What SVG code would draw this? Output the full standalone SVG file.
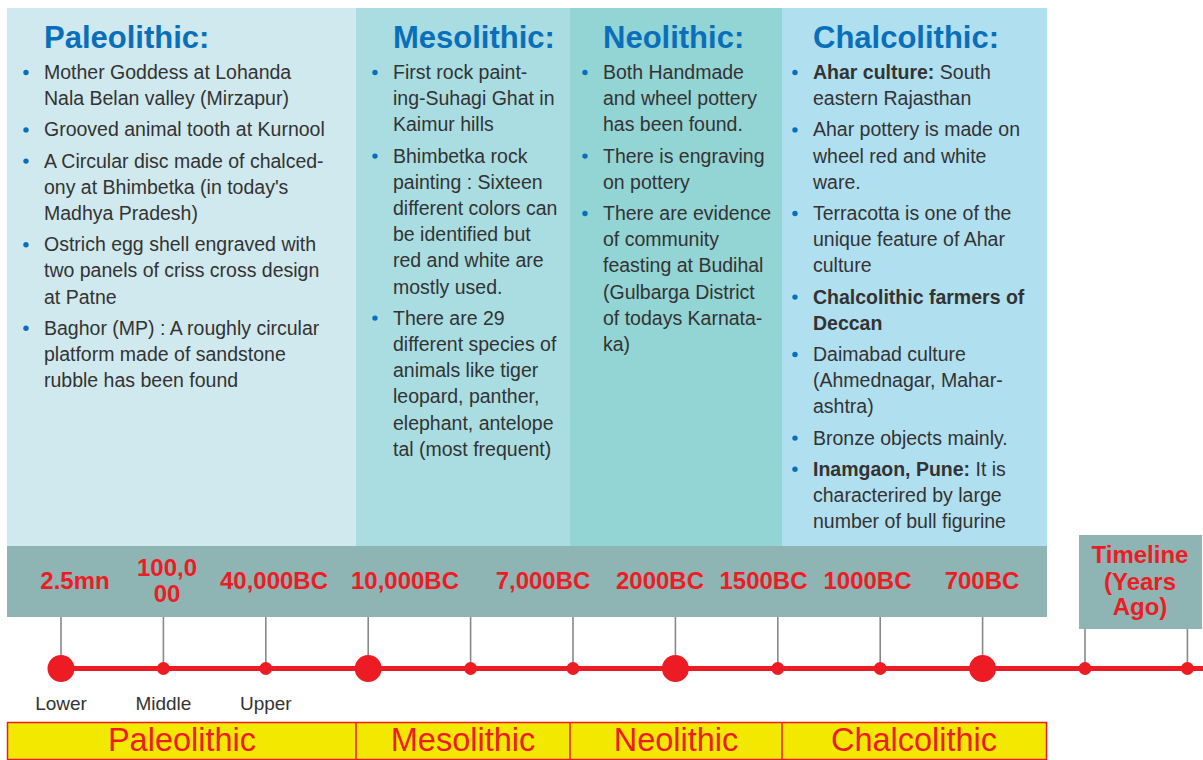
<svg xmlns="http://www.w3.org/2000/svg" width="1203" height="760" viewBox="0 0 1203 760">
<style>
.h{font-family:"Liberation Sans",Arial,sans-serif;font-weight:bold;font-size:31px;fill:#0a6fba}
.b{font-family:"Liberation Sans",Arial,sans-serif;font-size:19.5px;fill:#333}
.bb{font-weight:bold}
.d{fill:#0a6fba}
.dt{font-family:"Liberation Sans",Arial,sans-serif;font-weight:bold;font-size:24px;fill:#ed1c24;text-anchor:middle}
.lb{font-family:"Liberation Sans",Arial,sans-serif;font-size:19px;fill:#333;text-anchor:middle}
.era{font-family:"Liberation Sans",Arial,sans-serif;font-size:32.5px;fill:#ed1c24;text-anchor:middle}
.tick{stroke:#888;stroke-width:1.6}
.dot{fill:#ed1c24}
</style>
<rect width="1203" height="760" fill="#fff"/>

<g id="paleolithic-panel">
<rect x="7" y="8" width="349" height="538" fill="#d0e9ee"/>
<text class="h" x="44" y="48">Paleolithic:</text>
<circle class="d" cx="26" cy="72.5" r="2.7"/>
<circle class="d" cx="26" cy="129.9" r="2.7"/>
<circle class="d" cx="26" cy="161.1" r="2.7"/>
<circle class="d" cx="26" cy="244.7" r="2.7"/>
<circle class="d" cx="26" cy="328.3" r="2.7"/>
<text class="b" x="44" y="79">Mother Goddess at Lohanda</text>
<text class="b" x="44" y="105.2">Nala Belan valley (Mirzapur)</text>
<text class="b" x="44" y="136.4">Grooved animal tooth at Kurnool</text>
<text class="b" x="44" y="167.6">A Circular disc made of chalced-</text>
<text class="b" x="44" y="193.8">ony at Bhimbetka (in today's</text>
<text class="b" x="44" y="220">Madhya Pradesh)</text>
<text class="b" x="44" y="251.2">Ostrich egg shell engraved with</text>
<text class="b" x="44" y="277.4">two panels of criss cross design</text>
<text class="b" x="44" y="303.6">at Patne</text>
<text class="b" x="44" y="334.8">Baghor (MP) : A roughly circular</text>
<text class="b" x="44" y="361">platform made of sandstone</text>
<text class="b" x="44" y="387.2">rubble has been found</text>
</g>

<g id="mesolithic-panel">
<rect x="356" y="8" width="214" height="538" fill="#a9dde1"/>
<text class="h" x="393" y="48">Mesolithic:</text>
<circle class="d" cx="375" cy="72.5" r="2.7"/>
<circle class="d" cx="375" cy="156.1" r="2.7"/>
<circle class="d" cx="375" cy="318.1" r="2.7"/>
<text class="b" x="393" y="79">First rock paint-</text>
<text class="b" x="393" y="105.2">ing-Suhagi Ghat in</text>
<text class="b" x="393" y="131.4">Kaimur hills</text>
<text class="b" x="393" y="162.6">Bhimbetka rock</text>
<text class="b" x="393" y="188.8">painting : Sixteen</text>
<text class="b" x="393" y="215">different colors can</text>
<text class="b" x="393" y="241.2">be identified but</text>
<text class="b" x="393" y="267.4">red and white are</text>
<text class="b" x="393" y="293.6">mostly used.</text>
<text class="b" x="393" y="324.8">There are 29</text>
<text class="b" x="393" y="351">different species of</text>
<text class="b" x="393" y="377.2">animals like tiger</text>
<text class="b" x="393" y="403.4">leopard, panther,</text>
<text class="b" x="393" y="429.6">elephant, antelope</text>
<text class="b" x="393" y="455.8">tal (most frequent)</text>
</g>

<g id="neolithic-panel">
<rect x="570" y="8" width="212" height="538" fill="#93d4d4"/>
<text class="h" x="603" y="48">Neolithic:</text>
<circle class="d" cx="585" cy="72.5" r="2.7"/>
<circle class="d" cx="585" cy="156.1" r="2.7"/>
<circle class="d" cx="585" cy="213.5" r="2.7"/>
<text class="b" x="603" y="79">Both Handmade</text>
<text class="b" x="603" y="105.2">and wheel pottery</text>
<text class="b" x="603" y="131.4">has been found.</text>
<text class="b" x="603" y="162.6">There is engraving</text>
<text class="b" x="603" y="188.8">on pottery</text>
<text class="b" x="603" y="220">There are evidence</text>
<text class="b" x="603" y="246.2">of community</text>
<text class="b" x="603" y="272.4">feasting at Budihal</text>
<text class="b" x="603" y="298.6">(Gulbarga District</text>
<text class="b" x="603" y="324.8">of todays Karnata-</text>
<text class="b" x="603" y="351">ka)</text>
</g>

<g id="chalcolithic-panel">
<rect x="782" y="8" width="265" height="538" fill="#b0dff0"/>
<text class="h" x="813" y="48">Chalcolithic:</text>
<circle class="d" cx="795" cy="72.5" r="2.7"/>
<circle class="d" cx="795" cy="129.9" r="2.7"/>
<circle class="d" cx="795" cy="213.5" r="2.7"/>
<circle class="d" cx="795" cy="297.1" r="2.7"/>
<circle class="d" cx="795" cy="354.5" r="2.7"/>
<circle class="d" cx="795" cy="438.1" r="2.7"/>
<circle class="d" cx="795" cy="469.3" r="2.7"/>
<text class="b" x="813" y="79"><tspan class="bb">Ahar culture:</tspan> South</text>
<text class="b" x="813" y="105.2">eastern Rajasthan</text>
<text class="b" x="813" y="136.4">Ahar pottery is made on</text>
<text class="b" x="813" y="162.6">wheel red and white</text>
<text class="b" x="813" y="188.8">ware.</text>
<text class="b" x="813" y="220">Terracotta is one of the</text>
<text class="b" x="813" y="246.2">unique feature of Ahar</text>
<text class="b" x="813" y="272.4">culture</text>
<text class="b bb" x="813" y="303.6">Chalcolithic farmers of</text>
<text class="b bb" x="813" y="329.8">Deccan</text>
<text class="b" x="813" y="361">Daimabad culture</text>
<text class="b" x="813" y="387.2">(Ahmednagar, Mahar-</text>
<text class="b" x="813" y="413.4">ashtra)</text>
<text class="b" x="813" y="444.6">Bronze objects mainly.</text>
<text class="b" x="813" y="475.8"><tspan class="bb">Inamgaon, Pune:</tspan> It is</text>
<text class="b" x="813" y="502">characterired by large</text>
<text class="b" x="813" y="528.2">number of bull figurine</text>
</g>

<g id="date-band">
<rect x="7" y="546" width="1040" height="71" fill="#8eb4b3"/>
<text class="dt" x="75" y="589">2.5mn</text>
<text class="dt" x="167" y="576">100,0</text>
<text class="dt" x="167" y="602">00</text>
<text class="dt" x="274" y="589">40,000BC</text>
<text class="dt" x="405" y="589">10,000BC</text>
<text class="dt" x="543" y="589">7,000BC</text>
<text class="dt" x="660" y="589">2000BC</text>
<text class="dt" x="763.5" y="589">1500BC</text>
<text class="dt" x="867.5" y="589">1000BC</text>
<text class="dt" x="982" y="589">700BC</text>
</g>

<g id="timeline-label">
<rect x="1079" y="535" width="123" height="94" fill="#8eb4b3"/>
<text class="dt" x="1140" y="563">Timeline</text>
<text class="dt" x="1140" y="590">(Years</text>
<text class="dt" x="1140" y="615">Ago)</text>
</g>

<g id="connectors">
<line class="tick" x1="61" y1="617" x2="61" y2="668"/>
<line class="tick" x1="163.4" y1="617" x2="163.4" y2="668"/>
<line class="tick" x1="265.8" y1="617" x2="265.8" y2="668"/>
<line class="tick" x1="368.2" y1="617" x2="368.2" y2="668"/>
<line class="tick" x1="470.6" y1="617" x2="470.6" y2="668"/>
<line class="tick" x1="573" y1="617" x2="573" y2="668"/>
<line class="tick" x1="675.4" y1="617" x2="675.4" y2="668"/>
<line class="tick" x1="777.8" y1="617" x2="777.8" y2="668"/>
<line class="tick" x1="880.2" y1="617" x2="880.2" y2="668"/>
<line class="tick" x1="982.6" y1="617" x2="982.6" y2="668"/>
<line class="tick" x1="1085" y1="629" x2="1085" y2="668"/>
<line class="tick" x1="1187.4" y1="629" x2="1187.4" y2="668"/>
<line x1="61" y1="668.5" x2="1203" y2="668.5" stroke="#ed1c24" stroke-width="5"/>
</g>

<g id="timeline-points">
<circle class="dot" cx="61" cy="668.5" r="13.5"/>
<circle class="dot" cx="163.4" cy="668.5" r="6.5"/>
<circle class="dot" cx="265.8" cy="668.5" r="6.5"/>
<circle class="dot" cx="368.2" cy="668.5" r="13.5"/>
<circle class="dot" cx="470.6" cy="668.5" r="6.5"/>
<circle class="dot" cx="573" cy="668.5" r="6.5"/>
<circle class="dot" cx="675.4" cy="668.5" r="13.5"/>
<circle class="dot" cx="777.8" cy="668.5" r="6.5"/>
<circle class="dot" cx="880.2" cy="668.5" r="6.5"/>
<circle class="dot" cx="982.6" cy="668.5" r="13.5"/>
<circle class="dot" cx="1085" cy="668.5" r="6.5"/>
<circle class="dot" cx="1187.4" cy="668.5" r="6.5"/>
</g>

<g id="sub-labels">
<text class="lb" x="61" y="710">Lower</text>
<text class="lb" x="163.4" y="710">Middle</text>
<text class="lb" x="265.8" y="710">Upper</text>
</g>

<g id="era-bar">
<rect x="7.5" y="722.5" width="1039" height="37" fill="#f2e800" stroke="#ed1c24" stroke-width="1.5"/>
<line x1="356" y1="722.5" x2="356" y2="759.5" stroke="#ed1c24" stroke-width="1.5"/>
<line x1="570" y1="722.5" x2="570" y2="759.5" stroke="#ed1c24" stroke-width="1.5"/>
<line x1="782" y1="722.5" x2="782" y2="759.5" stroke="#ed1c24" stroke-width="1.5"/>
<text class="era" x="182" y="751">Paleolithic</text>
<text class="era" x="463" y="751">Mesolithic</text>
<text class="era" x="676" y="751">Neolithic</text>
<text class="era" x="914" y="751">Chalcolithic</text>
</g>
</svg>
